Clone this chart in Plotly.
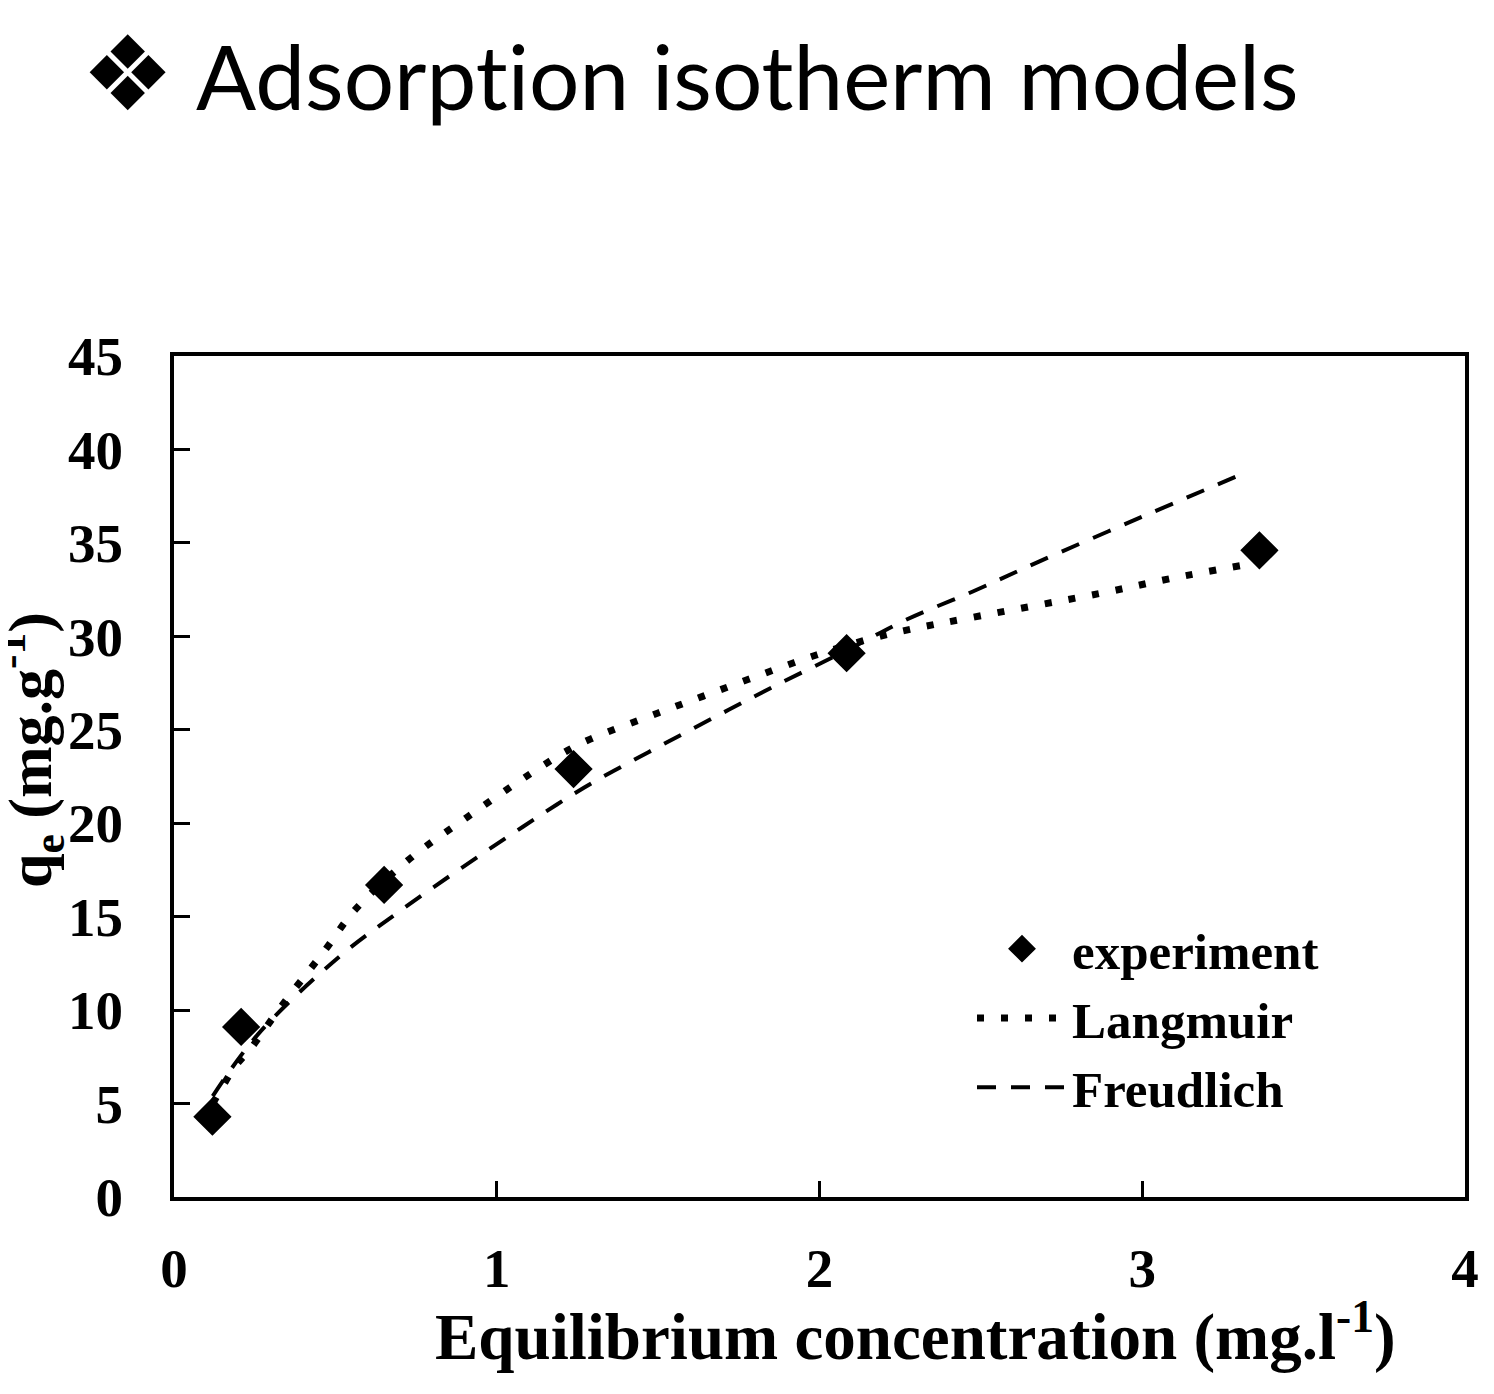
import plotly.graph_objects as go

# ---- data ----
exp_x = [0.119, 0.208, 0.651, 1.238, 2.084, 3.363]
exp_y = [4.3, 9.1, 16.7, 22.9, 29.1, 34.6]

lang_x = [0.12, 0.15, 0.19, 0.24, 0.33, 0.47, 0.56, 0.73, 0.91, 1.10, 1.22, 1.29, 1.50,
          1.64, 1.78, 1.99, 2.21, 2.50, 2.87, 3.09, 3.31]
lang_y = [5.0, 5.9, 7.0, 8.0, 10.15, 13.26, 15.35, 18.09, 20.34, 22.6, 23.9, 24.5, 25.9,
          26.8, 27.7, 29.0, 30.1, 31.1, 32.3, 33.1, 33.8]

fr_x = [0.12, 0.26, 0.515, 0.70, 0.89, 1.08, 1.27, 1.47, 1.667, 1.868, 2.09, 2.27,
        2.475, 2.68, 3.00, 3.325]
fr_y = [5.4, 8.7, 12.9, 15.3, 17.6, 19.8, 21.9, 23.8, 25.6, 27.4, 29.3, 30.9,
        32.4, 34.0, 36.4, 38.8]

x_ticks = [0, 1, 2, 3, 4]
y_ticks = [0, 5, 10, 15, 20, 25, 30, 35, 40, 45]

title_text = "Adsorpt\u200cion isotherm models"
bullet = "\u2756"
x_title = "<b>Equilibrium concentration (mg.l<sup>-1</sup>)</b>"
y_title = "<b>q<sub>e</sub> (mg.g<sup>-1</sup>)</b>"

SERIF = "Liberation Serif, Times New Roman, serif"

# layout geometry (page offset of 8px from the html body margin is compensated)
PL, PR, PT, PB = 174, 1465, 356, 1197
FW, FH = 1478, 1378
OFF = 8
W, H = PR - PL, PB - PT


def px(xp):
    return (xp - PL) / W


def py(yp):
    return (PB - yp) / H


fig = go.Figure()
fig.add_trace(go.Scatter(
    x=exp_x, y=exp_y, mode="markers", name="<b>experiment</b>",
    marker=dict(symbol="diamond", size=24, color="black",
                line=dict(color="black", width=5)),
))
fig.add_trace(go.Scatter(
    x=lang_x, y=lang_y, mode="lines", name="<b>Langmuir</b>", line_shape="spline",
    line=dict(color="black", width=7, dash="7px,17px"),
))
fig.add_trace(go.Scatter(
    x=fr_x, y=fr_y, mode="lines", name="<b>Freudlich</b>", line_shape="spline",
    line=dict(color="black", width=4, dash="19px,15px"),
))

axis_common = dict(
    showline=True, linecolor="black", linewidth=4, mirror=True,
    ticks="inside", ticklen=16, tickwidth=3, tickcolor="black",
    showgrid=False, zeroline=False, automargin=False,
    tickfont=dict(family=SERIF, size=55, color="black", weight="bold"),
)

fig.update_layout(
    width=FW, height=FH,
    paper_bgcolor="white", plot_bgcolor="white",
    margin=dict(l=PL - OFF, r=FW - (PR - OFF), t=PT - OFF, b=FH - (PB - OFF),
                autoexpand=False),
    showlegend=True,
    legend=dict(
        x=px(972), y=py(909), xanchor="left", yanchor="top",
        bgcolor="rgba(0,0,0,0)", borderwidth=0,
        font=dict(family=SERIF, size=51, color="black"),
        itemwidth=90, tracegroupgap=0,
    ),
    xaxis=dict(range=[0, 4], tickvals=x_ticks, ticktext=[str(v) for v in x_ticks],
               ticklabelstandoff=20, **axis_common),
    yaxis=dict(range=[0, 45], tickvals=y_ticks, ticktext=[str(v) for v in y_ticks],
               ticklabelstandoff=36, **axis_common),
)

fig.add_annotation(
    text=bullet, xref="paper", yref="paper", x=px(127), y=py(74),
    xanchor="center", yanchor="middle", showarrow=False,
    font=dict(family="DejaVu Sans", size=104, color="black"),
)
fig.add_annotation(
    text=title_text, xref="paper", yref="paper", x=px(194), y=py(76),
    xanchor="left", yanchor="middle", showarrow=False,
    font=dict(family="Lato", size=89, color="black"),
)
fig.add_annotation(
    text=x_title, xref="paper", yref="paper", x=px(915), y=py(1332),
    xanchor="center", yanchor="middle", showarrow=False,
    font=dict(family=SERIF, size=65, color="black"),
)
fig.add_annotation(
    text=y_title, xref="paper", yref="paper", x=px(29), y=py(750),
    xanchor="center", yanchor="middle", showarrow=False, textangle=-90,
    font=dict(family=SERIF, size=62, color="black"),
)

fig.write_html("out.html")
